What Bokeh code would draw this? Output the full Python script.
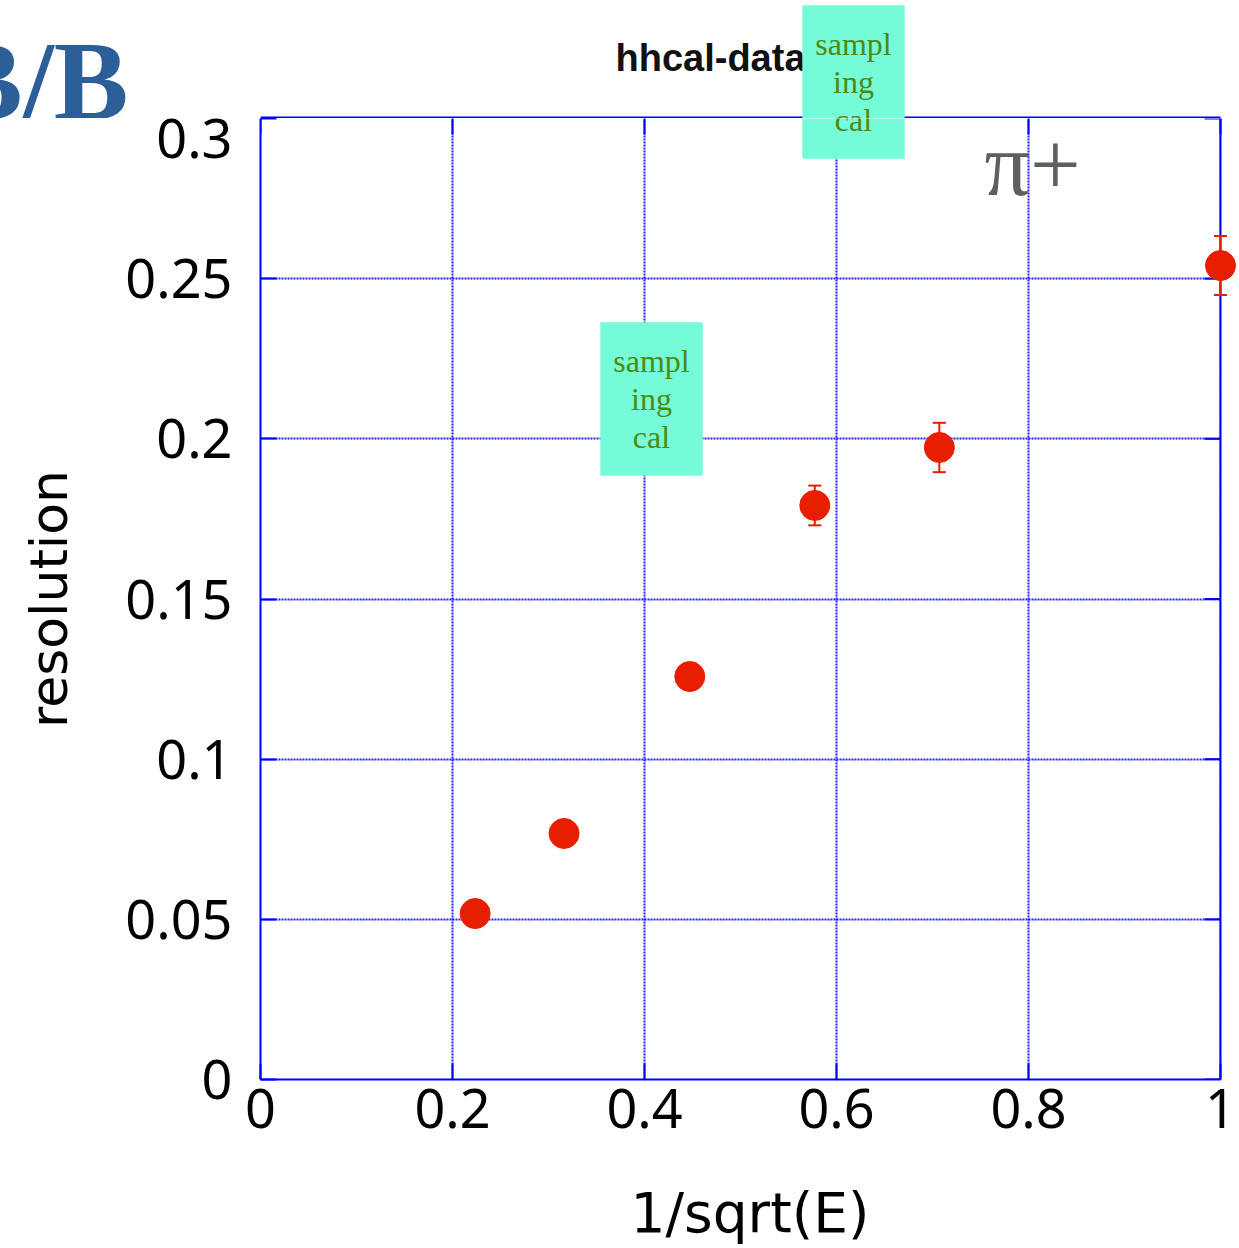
from bokeh.plotting import figure
from bokeh.layouts import column
from bokeh.models import (ColumnDataSource, Whisker, TeeHead, Label, LinearAxis,
                          FixedTicker, Range1d, Span, BoxAnnotation)
from bokeh.embed import file_html
from bokeh.resources import INLINE

# ---- data ----
inv_sqrt_e = [0.2236, 0.3162, 0.4472, 0.5774, 0.7071, 1.0]
resolution = [0.0518, 0.0768, 0.1258, 0.1792, 0.1973, 0.2541]
resolution_err = [0.002, 0.003, 0.004, 0.0062, 0.0077, 0.0092]
x_ticks = [0, 0.2, 0.4, 0.6, 0.8, 1.0]
x_tick_labels = ["0", "0.2", "0.4", "0.6", "0.8", "1"]
y_ticks = [0, 0.05, 0.1, 0.15, 0.2, 0.25, 0.3]
y_tick_labels = ["0", "0.05", "0.1", "0.15", "0.2", "0.25", "0.3"]
title_text = "hhcal-data"
x_label = "1/sqrt(E)"
y_label = "resolution"
box_text = "sampl\ning\ncal"
particle_text = "\u03c0+"
corner_text = "B/B"

# ---- page geometry (pixels) ----
W, H = 1239, 1248
FRAME_L, FRAME_R, FRAME_T, FRAME_B = 260, 1220, 118, 1079
X0, X1, Y0, Y1 = 0.0, 1.0, 0.0, 0.3
TOP_H = FRAME_T
MAIN_H = H - TOP_H
PX_X = (FRAME_R - FRAME_L) / (X1 - X0)
PX_Y = (FRAME_B - FRAME_T) / (Y1 - Y0)
TICK_LEN = 16

def dx(px):
    return X0 + (px - FRAME_L) / PX_X

def dy(py):
    return Y0 + (FRAME_B - py) / PX_Y

BLUE = "#0000ff"
GRID_BLUE = "#2020ff"
RED = "#e81e00"
TICK_FONT = "Noto Sans"
LABEL_FONT = "DejaVu Sans"
BOX_FILL = "#75fbd7"
BOX_TEXT = "#4f8a10"

def box_label(cx, cy):
    return Label(x=dx(cx), y=dy(cy), text=box_text, text_font="Liberation Serif",
                 text_font_size="32px", text_color=BOX_TEXT, text_align="center",
                 text_baseline="middle", text_line_height=1.05,
                 background_fill_color=BOX_FILL, padding=(13, 21))

# ---- top strip (page y 0..TOP_H); its frame lines up with the main frame ----
top = figure(width=W, height=TOP_H, output_backend="svg", toolbar_location=None,
             x_range=Range1d(X0, dx(W)), y_range=Range1d(dy(TOP_H), dy(0)),
             x_axis_location=None, y_axis_location=None, min_border=0)
top.outline_line_color = None
top.background_fill_color = "white"
top.border_fill_color = "white"
top.xgrid.visible = False
top.ygrid.visible = False

# top edge of the plot frame (lies on the seam between the two canvases)
top.segment(x0=[X0], y0=[Y1], x1=[X1], y1=[Y1], line_color=BLUE, line_width=4)

top.add_layout(Label(x=dx(615), y=dy(71 - 0.3465 * 38), text=title_text,
                     text_font="Liberation Sans", text_font_style="bold",
                     text_font_size="38px", text_color="#111111",
                     text_baseline="middle", text_align="left"))
top.add_layout(box_label(853, 81.5))
top.add_layout(Label(x=dx(128), y=dy(118 - 0.3375 * 112), text=corner_text,
                     text_font="Liberation Serif", text_font_style="bold",
                     text_font_size="112px", text_color="#2c5f97",
                     text_baseline="middle", text_align="right"), "left")

# ---- main plot ----
p = figure(width=W, height=MAIN_H, output_backend="svg", toolbar_location=None,
           x_range=Range1d(X0, dx(W)), y_range=Range1d(Y0, Y1),
           x_axis_location=None, y_axis_location=None,
           min_border_left=FRAME_L, min_border_right=0, min_border_top=0,
           min_border_bottom=H - FRAME_B)
p.background_fill_color = "white"
p.border_fill_color = "white"
p.outline_line_color = None

def style_axis(ax, label_size):
    ax.major_tick_in = TICK_LEN
    ax.major_tick_out = 0
    ax.minor_tick_line_color = None
    ax.major_tick_line_color = BLUE
    ax.major_tick_line_width = 2
    ax.axis_line_color = BLUE
    ax.axis_line_width = 2
    ax.major_label_text_font = TICK_FONT
    ax.major_label_text_font_size = "54px"
    ax.major_label_text_color = "black"
    ax.axis_label_text_font = LABEL_FONT
    ax.axis_label_text_font_size = label_size
    ax.axis_label_text_font_style = "normal"
    ax.axis_label_text_color = "black"

xb = LinearAxis(ticker=FixedTicker(ticks=x_ticks), axis_label=x_label, bounds=(X0, X1),
                major_label_overrides=dict(zip(x_ticks, x_tick_labels)))
style_axis(xb, "55px")
xb.major_label_standoff = 9
xb.axis_label_standoff = 50
p.add_layout(xb, "below")

yl = LinearAxis(ticker=FixedTicker(ticks=y_ticks), axis_label=y_label,
                major_label_overrides=dict(zip(y_ticks, y_tick_labels)))
style_axis(yl, "52px")
yl.major_label_standoff = 28
yl.axis_label_standoff = 43
p.add_layout(yl, "left")

p.xgrid.ticker = FixedTicker(ticks=x_ticks)
p.ygrid.ticker = FixedTicker(ticks=y_ticks)
for g in (p.xgrid, p.ygrid):
    g.grid_line_color = GRID_BLUE
    g.grid_line_width = 2
    g.grid_line_dash = "2 1"
    g.grid_line_alpha = 1.0

# blank area right of x = 1 (the frame runs to the page edge so the last point is not cut)
p.add_layout(BoxAnnotation(left=X1, fill_color="white", fill_alpha=1.0, line_color=None,
                           level="underlay"))
p.add_layout(Span(location=X1, dimension="height", line_color=BLUE, line_width=2,
                  level="underlay"))
# inward ticks on the top and right edges
p.segment(x0=x_ticks, y0=[Y1] * len(x_ticks), x1=x_ticks,
          y1=[Y1 - TICK_LEN / PX_Y] * len(x_ticks), line_color=BLUE, line_width=2)
p.segment(x0=[X1] * len(y_ticks), y0=y_ticks, x1=[X1 - TICK_LEN / PX_X] * len(y_ticks),
          y1=y_ticks, line_color=BLUE, line_width=2)

src = ColumnDataSource(dict(
    x=inv_sqrt_e, y=resolution,
    lower=[v - e for v, e in zip(resolution, resolution_err)],
    upper=[v + e for v, e in zip(resolution, resolution_err)],
))
wh = Whisker(base="x", lower="lower", upper="upper", source=src,
             line_color=RED, line_width=2,
             upper_head=TeeHead(size=13, line_color=RED, line_width=2),
             lower_head=TeeHead(size=13, line_color=RED, line_width=2))
p.add_layout(wh)
p.scatter("x", "y", source=src, size=30, color=RED, line_color=RED)

p.add_layout(box_label(853, 81.5))
p.add_layout(box_label(651, 398.5))
p.add_layout(Label(x=dx(984), y=dy(194 - 0.3375 * 90), text=particle_text,
                   text_font="Liberation Serif", text_font_size="90px", text_color="#5f5f5f",
                   text_baseline="middle", text_align="left"))

layout = column(top, p, spacing=0)
open("out.html", "w").write(file_html(layout, INLINE))
